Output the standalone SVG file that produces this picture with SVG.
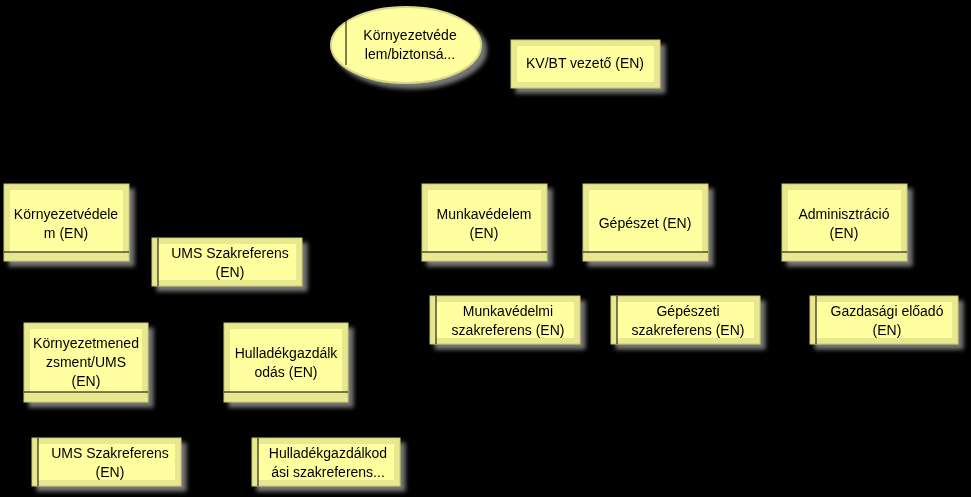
<svg xmlns="http://www.w3.org/2000/svg" width="971" height="497" viewBox="0 0 971 497">
<defs>
<filter id="sh" x="-10%" y="-10%" width="130%" height="140%"><feGaussianBlur in="SourceAlpha" stdDeviation="3"/><feOffset dx="5" dy="5"/><feComponentTransfer><feFuncA type="linear" slope="0.6"/></feComponentTransfer><feFlood flood-color="#777"/><feComposite operator="in" in2="SourceAlpha"/><feGaussianBlur stdDeviation="2"/><feOffset dx="5" dy="5"/><feMerge><feMergeNode/><feMergeNode in="SourceGraphic"/></feMerge></filter>
<marker id="ar" markerWidth="10" markerHeight="10" refX="9" refY="5" orient="auto" markerUnits="userSpaceOnUse"><path d="M0,0 L9,5 L0,10" fill="none" stroke="#000"/></marker>
</defs>
<style>
.o{fill:#e8e890;stroke:#c8c878;stroke-width:1}
.i{fill:#ffffa0}
.l{stroke:#000;stroke-width:1;fill:none}
text{font-family:"Liberation Sans",Arial,sans-serif;font-size:14px;fill:#000;text-anchor:middle}
</style>
<rect width="971" height="497" fill="#000"/>
<g id="connectors" class="l">
<line x1="406" y1="184" x2="406" y2="84" marker-end="url(#ar)"/>
<line x1="511" y1="64" x2="470" y2="64" marker-end="url(#ar)"/>
<line x1="66" y1="261" x2="66" y2="323"/>
<line x1="129" y1="242" x2="152" y2="242"/>
<line x1="106" y1="402" x2="106" y2="438"/>
<line x1="306" y1="402" x2="306" y2="438"/>
<line x1="506" y1="261" x2="506" y2="296"/>
<line x1="666" y1="261" x2="666" y2="296"/>
<line x1="866" y1="261" x2="866" y2="296"/>
</g>
<g id="root" filter="url(#sh)"><ellipse cx="406" cy="45" rx="75" ry="38" fill="#ffffa0" stroke="#d8d888" stroke-width="2"/><line x1="346" y1="19" x2="346" y2="65" class="l"/><text x="410" y="40">Környezetvéde</text><text x="410" y="59">lem/biztonsá...</text></g>
<g id="kvbt" filter="url(#sh)"><rect class="o" x="511" y="40" width="149" height="48"/><rect class="i" x="517" y="46" width="137" height="36"/><text x="585" y="68">KV/BT vezető (EN)</text></g>
<g id="kornyezetvedelem" filter="url(#sh)"><rect class="o" x="4" y="184" width="125" height="77"/><rect class="i" x="10" y="190" width="113" height="62"/><line x1="4" y1="252" x2="129" y2="252" class="l"/><text x="66" y="219">Környezetvédele</text><text x="66" y="238">m (EN)</text></g>
<g id="ums1" filter="url(#sh)"><rect class="o" x="152" y="238" width="150" height="48"/><rect class="i" x="158" y="244" width="138" height="36"/><line x1="158" y1="238" x2="158" y2="286" class="l"/><text x="230" y="258">UMS Szakreferens</text><text x="230" y="277">(EN)</text></g>
<g id="kornyezetmenedzsment" filter="url(#sh)"><rect class="o" x="24" y="323" width="124" height="79"/><rect class="i" x="30" y="329" width="112" height="63"/><line x1="24" y1="392" x2="148" y2="392" class="l"/><text x="86" y="348">Környezetmened</text><text x="86" y="367">zsment/UMS</text><text x="86" y="386">(EN)</text></g>
<g id="hulladek" filter="url(#sh)"><rect class="o" x="224" y="323" width="124" height="79"/><rect class="i" x="230" y="329" width="112" height="63"/><line x1="224" y1="392" x2="348" y2="392" class="l"/><text x="286" y="358">Hulladékgazdálk</text><text x="286" y="377">odás (EN)</text></g>
<g id="ums2" filter="url(#sh)"><rect class="o" x="32" y="438" width="149" height="48"/><rect class="i" x="38" y="444" width="137" height="36"/><line x1="38" y1="438" x2="38" y2="486" class="l"/><text x="110" y="458">UMS Szakreferens</text><text x="110" y="477">(EN)</text></g>
<g id="hulladekszak" filter="url(#sh)"><rect class="o" x="252" y="438" width="148" height="48"/><rect class="i" x="258" y="444" width="136" height="36"/><line x1="258" y1="438" x2="258" y2="486" class="l"/><text x="328" y="458">Hulladékgazdálkod</text><text x="328" y="477">ási szakreferens...</text></g>
<g id="munkavedelem" filter="url(#sh)"><rect class="o" x="422" y="184" width="125" height="77"/><rect class="i" x="428" y="190" width="113" height="62"/><line x1="422" y1="252" x2="547" y2="252" class="l"/><text x="484" y="219">Munkavédelem</text><text x="484" y="238">(EN)</text></g>
<g id="gepeszet" filter="url(#sh)"><rect class="o" x="583" y="184" width="125" height="77"/><rect class="i" x="589" y="190" width="113" height="62"/><line x1="583" y1="252" x2="708" y2="252" class="l"/><text x="645" y="228">Gépészet (EN)</text></g>
<g id="adminisztracio" filter="url(#sh)"><rect class="o" x="782" y="184" width="125" height="77"/><rect class="i" x="788" y="190" width="113" height="62"/><line x1="782" y1="252" x2="907" y2="252" class="l"/><text x="844" y="219">Adminisztráció</text><text x="844" y="238">(EN)</text></g>
<g id="munkavedelmiszak" filter="url(#sh)"><rect class="o" x="430" y="296" width="150" height="48"/><rect class="i" x="436" y="302" width="138" height="36"/><line x1="436" y1="296" x2="436" y2="344" class="l"/><text x="508" y="316">Munkavédelmi</text><text x="508" y="335">szakreferens (EN)</text></g>
<g id="gepeszetiszak" filter="url(#sh)"><rect class="o" x="611" y="296" width="149" height="48"/><rect class="i" x="617" y="302" width="137" height="36"/><line x1="617" y1="296" x2="617" y2="344" class="l"/><text x="688" y="316">Gépészeti</text><text x="688" y="335">szakreferens (EN)</text></g>
<g id="gazdasagi" filter="url(#sh)"><rect class="o" x="810" y="296" width="148" height="48"/><rect class="i" x="816" y="302" width="136" height="36"/><line x1="816" y1="296" x2="816" y2="344" class="l"/><text x="887" y="316">Gazdasági előadó</text><text x="887" y="335">(EN)</text></g>
</svg>
